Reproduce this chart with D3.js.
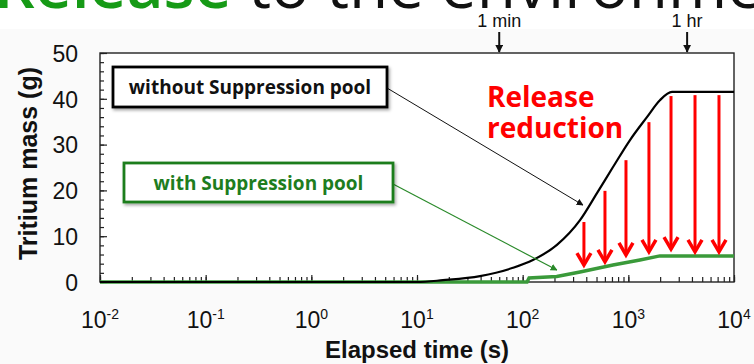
<!DOCTYPE html>
<html>
<head>
<meta charset="utf-8">
<script src="https://cdn.jsdelivr.net/npm/d3@7"></script>
<style>
  body { margin: 0; background: #fff; }
  svg { display: block; }
</style>
</head>
<body>
<div id="chart"></div>
<script>
// curve without the suppression pool (time in s, tritium in g)
const withoutTime = [0.01, 10, 17.6, 39.5, 81, 125, 211, 349, 505, 716, 1037, 1500, 1990, 2590, 10000]
const withoutMass = [0, 0, 0.4, 1.3, 3.1, 4.8, 8.1, 13.5, 19.4, 25.1, 31.0, 36.0, 39.7, 41.5, 41.5]

// curve with the suppression pool
const withTime = [0.01, 110, 115, 210, 349, 716, 1288, 1990, 10000]
const withMass = [0, 0, 0.9, 1.2, 2.2, 3.7, 4.8, 5.7, 5.7]

// red "release reduction" arrows
const arrowTime = [380, 601, 950, 1567, 2535, 4276, 7210]
const arrowFrom = [13.1, 19.9, 26.6, 34.9, 40.6, 40.8, 40.8]
const arrowTo = [3.7, 4.4, 5.9, 6.6, 7.2, 6.6, 6.6]

const markLabels = ['1 min', '1 hr']
const markTimes = [60, 3600]

const decades = [-2, -1, 0, 1, 2, 3, 4]
const yMajor = [0, 10, 20, 30, 40, 50]

const width = 754
const height = 364
const margin = { top: 53, right: 20, bottom: 82, left: 100 }

const svg = d3.select('#chart').append('svg')
  .attr('width', width)
  .attr('height', height)

const defs = svg.append('defs')
const shadow = defs.append('filter').attr('id', 'shadow')
  .attr('x', '-10%').attr('y', '-20%').attr('width', '130%').attr('height', '160%')
shadow.append('feDropShadow')
  .attr('dx', 1.5).attr('dy', 2).attr('stdDeviation', 1.5)
  .attr('flood-color', '#000').attr('flood-opacity', 0.35)

;[['tipBlack', '#111'], ['tipGreen', '#2a8a2a'], ['tipMark', '#111']].forEach(([id, c]) => {
  defs.append('marker').attr('id', id)
    .attr('viewBox', '0 0 10 10').attr('refX', 9).attr('refY', 5)
    .attr('markerWidth', id === 'tipMark' ? 4 : 7).attr('markerHeight', id === 'tipMark' ? 4 : 7)
    .attr('markerUnits', id === 'tipMark' ? 'strokeWidth' : 'userSpaceOnUse')
    .attr('orient', 'auto')
    .append('path').attr('d', 'M0,0L10,5L0,10z').attr('fill', c)
})

// faint band behind the figure
svg.append('rect').attr('x', 0).attr('y', 29).attr('width', width).attr('height', height - 29)
  .attr('fill', '#fafafa')

// cropped slide title
const title = svg.append('text')
  .attr('x', -6).attr('y', 8)
  .attr('font-family', '"Open Sans", sans-serif')
  .attr('font-size', 64)
title.append('tspan').text('Release').attr('fill', '#169a16').attr('font-weight', 600)
title.append('tspan').text(' to the environment').attr('fill', '#111')

const x = d3.scaleLog()
  .domain([0.01, 10000])
  .range([margin.left, width - margin.right])

const y = d3.scaleLinear()
  .domain([0, 50])
  .range([height - margin.bottom, margin.top])

svg.append('rect')
  .attr('x', x.range()[0]).attr('y', y(50))
  .attr('width', x.range()[1] - x.range()[0]).attr('height', y(0) - y(50))
  .attr('fill', '#fff')

// x axis: inward ticks
const xMinor = svg.append('g')
  .attr('transform', `translate(0, ${y(0)})`)
  .call(d3.axisBottom(x).tickValues(x.ticks()).tickSize(-5).tickFormat('').tickSizeOuter(0))
xMinor.select('.domain').remove()
const xMajor = svg.append('g')
  .attr('transform', `translate(0, ${y(0)})`)
  .call(d3.axisBottom(x).tickValues(decades.map(d => Math.pow(10, d))).tickSize(-7).tickFormat('').tickSizeOuter(0))
xMajor.select('.domain').remove()

const xLabels = svg.append('g')
  .attr('font-family', '"Liberation Sans", Arial, sans-serif')
  .attr('fill', '#111')
  .selectAll('text')
  .data(decades).enter()
  .append('text')
    .attr('x', d => x(Math.pow(10, d)))
    .attr('y', 328)
    .attr('text-anchor', 'middle')
    .attr('font-size', 23)
xLabels.append('tspan').text('10')
xLabels.append('tspan').text(d => d).attr('font-size', 14).attr('dy', -9)

svg.append('text')
  .text('Elapsed time (s)')
  .attr('x', (x.range()[0] + x.range()[1]) / 2)
  .attr('y', 358)
  .attr('text-anchor', 'middle')
  .attr('font-family', '"Liberation Sans", Arial, sans-serif')
  .attr('font-weight', 'bold')
  .attr('font-size', 24)
  .attr('fill', '#111')

// y axis: inward ticks every 2 g
const yMinor = svg.append('g')
  .attr('transform', `translate(${margin.left}, 0)`)
  .call(d3.axisLeft(y).tickValues(d3.range(0, 51, 2)).tickSize(-4).tickFormat('').tickSizeOuter(0))
yMinor.select('.domain').remove()
const yAxis = svg.append('g')
  .attr('transform', `translate(${margin.left}, 0)`)
  .call(d3.axisLeft(y).tickValues(yMajor).tickSize(-7).tickPadding(22).tickSizeOuter(0))
yAxis.select('.domain').remove()
yAxis.selectAll('text')
  .attr('font-family', '"Liberation Sans", Arial, sans-serif')
  .attr('font-size', 23)
  .attr('fill', '#111')
  .attr('dy', '0.36em')
svg.selectAll('.tick line').attr('stroke', '#222').attr('stroke-width', 1.2)

svg.append('text')
  .text('Tritium mass (g)')
  .attr('transform', `translate(37, ${(y(0) + y(50)) / 2 - 4}) rotate(-90)`)
  .attr('text-anchor', 'middle')
  .attr('font-family', '"Liberation Sans", Arial, sans-serif')
  .attr('font-weight', 'bold')
  .attr('font-size', 25)
  .attr('fill', '#111')

// frame
svg.append('rect')
  .attr('x', x.range()[0]).attr('y', y(50))
  .attr('width', x.range()[1] - x.range()[0]).attr('height', y(0) - y(50))
  .attr('fill', 'none').attr('stroke', '#222').attr('stroke-width', 1.4)

const line = d3.line()
  .x(d => x(d[0]))
  .y(d => y(d[1]))

svg.append('path')
  .datum(withTime.map((t, i) => [t, withMass[i]]))
  .attr('d', line.curve(d3.curveLinear))
  .attr('fill', 'none')
  .attr('stroke', '#3a9a3a')
  .attr('stroke-width', 3.5)

svg.append('path')
  .datum(withoutTime.map((t, i) => [t, withoutMass[i]]))
  .attr('d', line.curve(d3.curveMonotoneX))
  .attr('fill', 'none')
  .attr('stroke', '#000')
  .attr('stroke-width', 2.2)

// red arrows
const arrows = svg.append('g').attr('stroke', '#ff0000').attr('fill', 'none')
arrowTime.forEach((t, i) => {
  const ax = x(t)
  const tip = y(arrowTo[i])
  arrows.append('line')
    .attr('x1', ax).attr('x2', ax)
    .attr('y1', y(arrowFrom[i])).attr('y2', tip - 2)
    .attr('stroke-width', 3)
  arrows.append('path')
    .attr('d', `M${ax - 7},${tip - 12}L${ax},${tip}L${ax + 7},${tip - 12}`)
    .attr('stroke-width', 3.5)
    .attr('stroke-linejoin', 'miter')
})

const reduction = svg.append('text')
  .attr('font-family', '"Open Sans", sans-serif')
  .attr('font-weight', 'bold')
  .attr('font-size', 28)
  .attr('fill', '#ff0000')
reduction.append('tspan').attr('x', 487).attr('y', 107).text('Release')
reduction.append('tspan').attr('x', 487).attr('y', 138).text('reduction')

// leader lines from labels to curves
svg.append('line')
  .attr('x1', 387).attr('y1', 88)
  .attr('x2', x(372)).attr('y2', y(16.8))
  .attr('stroke', '#111').attr('stroke-width', 1)
  .attr('marker-end', 'url(#tipBlack)')
svg.append('line')
  .attr('x1', 393).attr('y1', 184)
  .attr('x2', x(211)).attr('y2', y(2.6))
  .attr('stroke', '#2a8a2a').attr('stroke-width', 1.2)
  .attr('marker-end', 'url(#tipGreen)')

// label boxes
const boxes = [
  { text: 'without Suppression pool', x: 113, y: 67, w: 274, h: 40, color: '#000', text_color: '#111' },
  { text: 'with Suppression pool', x: 124, y: 163, w: 269, h: 39, color: '#1e7d1e', text_color: '#1e7d1e' }
]
boxes.forEach(b => {
  svg.append('rect')
    .attr('x', b.x).attr('y', b.y).attr('width', b.w).attr('height', b.h)
    .attr('fill', '#fff').attr('stroke', b.color).attr('stroke-width', 2.8)
    .attr('filter', 'url(#shadow)')
  svg.append('text')
    .text(b.text)
    .attr('x', b.x + b.w / 2).attr('y', b.y + b.h / 2 + 7)
    .attr('text-anchor', 'middle')
    .attr('font-family', '"Open Sans", sans-serif')
    .attr('font-weight', 'bold')
    .attr('font-size', 19)
    .attr('fill', b.text_color)
})

// time markers above the frame
markTimes.forEach((t, i) => {
  svg.append('text')
    .text(markLabels[i])
    .attr('x', x(t)).attr('y', 27)
    .attr('text-anchor', 'middle')
    .attr('font-family', '"Liberation Sans", Arial, sans-serif')
    .attr('font-size', 18)
    .attr('fill', '#111')
  svg.append('line')
    .attr('x1', x(t)).attr('x2', x(t))
    .attr('y1', 32).attr('y2', y(50) - 1)
    .attr('stroke', '#111').attr('stroke-width', 2)
    .attr('marker-end', 'url(#tipMark)')
})
</script>
</body>
</html>
